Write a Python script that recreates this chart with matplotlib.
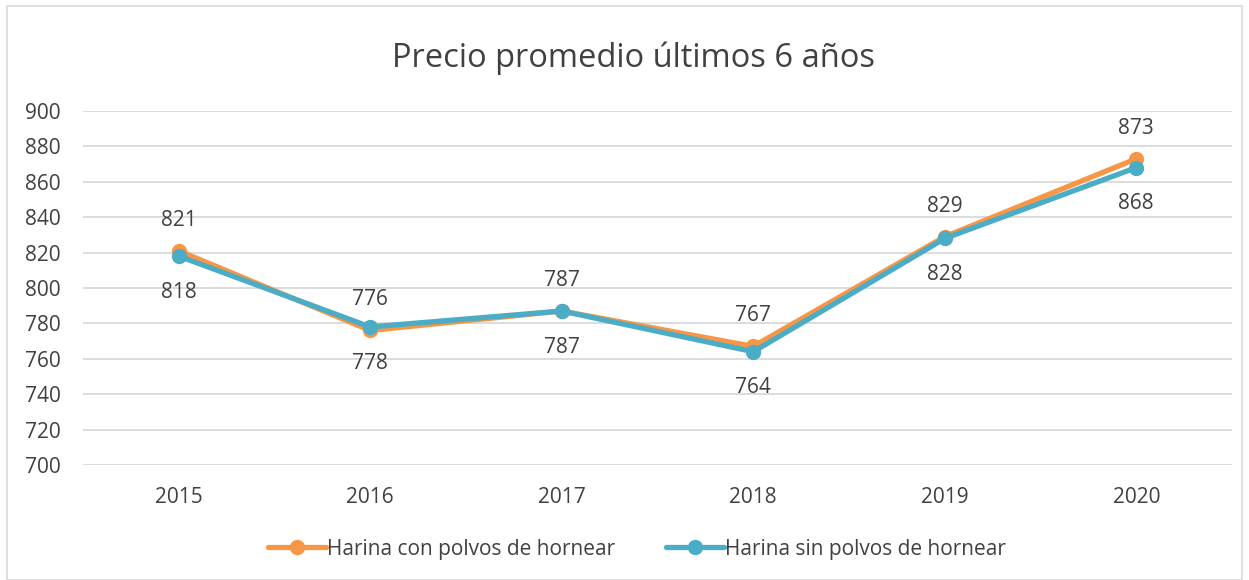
import matplotlib
matplotlib.use("Agg")
import matplotlib.pyplot as plt
from matplotlib.patches import Rectangle

years = ["2015", "2016", "2017", "2018", "2019", "2020"]
con_polvos = [821, 776, 787, 767, 829, 873]
sin_polvos = [818, 778, 787, 764, 828, 868]
series_names = ["Harina con polvos de hornear", "Harina sin polvos de hornear"]
title = "Precio promedio últimos 6 años"

plt.rcParams['font.family'] = ['Open Sans', 'DejaVu Sans']
text_color = "#404040"
fs = 15

fig = plt.figure(figsize=(12.49, 5.8), dpi=100)
ax = fig.add_axes([83/1249, 1-465/580, (1232-83)/1249, (465-111)/580])

x = list(range(len(years)))
orange = "#F79646"
blue = "#4BACC6"
ax.plot(x, con_polvos, color=orange, lw=3.8, marker='o', ms=10, label=series_names[0], zorder=3, solid_capstyle='round')
ax.plot(x, sin_polvos, color=blue, lw=3.8, marker='o', ms=10, label=series_names[1], zorder=4, solid_capstyle='round')

for xi, v in zip(x, con_polvos):
    ax.annotate(str(v), (xi, v), xytext=(0, 22), textcoords='offset points', ha='center', va='center', fontsize=fs, color=text_color)
for xi, v in zip(x, sin_polvos):
    ax.annotate(str(v), (xi, v), xytext=(0, -26), textcoords='offset points', ha='center', va='center', fontsize=fs, color=text_color)

ax.set_xlim(-0.5, 5.5)
ax.set_ylim(700, 900)
ax.set_yticks(range(700, 901, 20))
ax.set_xticks(x)
ax.set_xticklabels(years)
ax.grid(axis='y', color='#D9D9D9', lw=1.3)
ax.set_axisbelow(True)
for s in ax.spines.values():
    s.set_visible(False)
ax.tick_params(axis='both', length=0, labelsize=fs, colors=text_color)
ax.tick_params(axis='y', pad=16)
ax.tick_params(axis='x', pad=16)

fig.text(634/1249, 1-58/580, title, ha='center', va='center', fontsize=23.5, color=text_color)

leg = fig.legend(loc='center', bbox_to_anchor=(637/1249, 1-549/580), ncol=2, frameon=False,
                 fontsize=fs, handlelength=2.8, columnspacing=2.4, handletextpad=0.05)
for t in leg.get_texts():
    t.set_color(text_color)

fig.patches.append(Rectangle((7/1249, 0.0), 1-14/1249, 1-6/580, transform=fig.transFigure,
                             fill=False, edgecolor='#D9D9D9', lw=1.2))

fig.savefig("out.png", dpi=100)
